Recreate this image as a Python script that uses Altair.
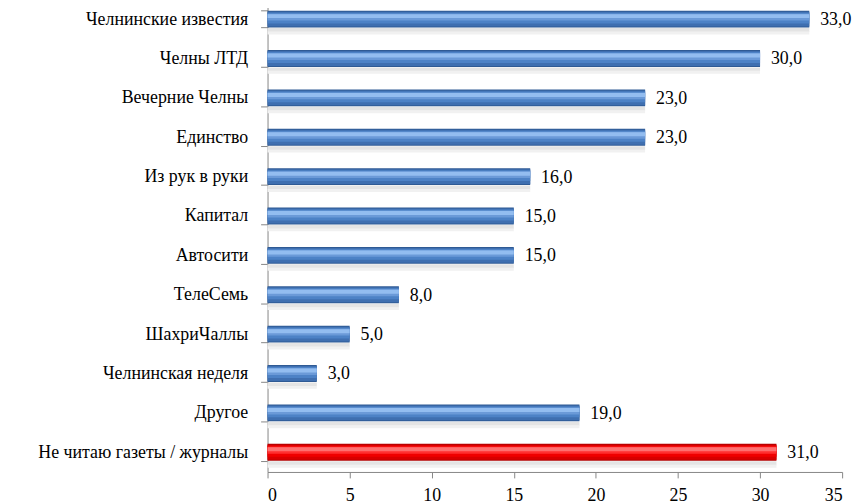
import altair as alt
import pandas as pd

categories = [
    "Челнинские известия", "Челны ЛТД", "Вечерние Челны", "Единство",
    "Из рук в руки", "Капитал", "Автосити", "ТелеСемь", "ШахриЧаллы",
    "Челнинская неделя", "Другое", "Не читаю газеты / журналы",
]
values = [33, 30, 23, 23, 16, 15, 15, 8, 5, 3, 19, 31]
highlight = ["Не читаю газеты / журналы"]
x_ticks = [0, 5, 10, 15, 20, 25, 30, 35]

df = pd.DataFrame({"cat": categories, "v": values})
df["hl"] = df["cat"].isin(highlight)

FONT = "Liberation Serif"

y_enc = alt.Y(
    "cat:N", sort=categories, title=None,
    scale=alt.Scale(paddingInner=0.57, paddingOuter=0.285),
    axis=alt.Axis(
        tickBand="extent", tickSize=7, labelPadding=13, labelFont=FONT,
        labelFontSize=18, labelColor="#000000", domainColor="#868686",
        tickColor="#868686", labelLimit=300,
    ),
)
x_enc = alt.X(
    "v:Q", title=None,
    scale=alt.Scale(domain=[0, 35], nice=False),
    axis=alt.Axis(
        values=x_ticks, grid=False, tickSize=6, labelPadding=9,
        labelFont=FONT, labelFontSize=18, labelColor="#000000",
        domainColor="#868686", tickColor="#868686",
    ),
)

base = alt.Chart(df)


def band(size, offset, blue_col, red_col, opacity=1.0):
    return base.mark_bar(size=size, yOffset=offset, opacity=opacity).encode(
        x=x_enc, y=y_enc,
        color=alt.condition("datum.hl", alt.value(red_col), alt.value(blue_col)),
    )


layers = [
    band(4, 11, "#e4e4e4", "#e4e4e4"),
    band(3, 14, "#f1f1f1", "#f1f1f1"),
    band(17, 0, "#2f5a94", "#b00000"),
    band(15, 0, "#3f6fb0", "#d80000"),
    band(11, -1, "#4d82c6", "#f00000"),
    band(7, -2, "#6b9ad8", "#ff3030"),
    band(4, -3, "#93bdf0", "#ff7070"),
]
text_layer = base.transform_calculate(
    lab="replace(format(datum.v, '.1f'), '.', ',')"
).mark_text(
    align="left", baseline="middle", dx=11, dy=1, font=FONT, fontSize=18, color="#000000"
).encode(x=x_enc, y=y_enc, text="lab:N")

chart = alt.layer(*layers, text_layer).properties(
    width=580, height=477,
    autosize=alt.AutoSizeParams(type="none"),
    padding={"left": 262, "top": -11, "right": 13, "bottom": 30},
).configure_view(stroke=None)

chart.save("out.html", embed_options={"renderer": "svg", "actions": False})
